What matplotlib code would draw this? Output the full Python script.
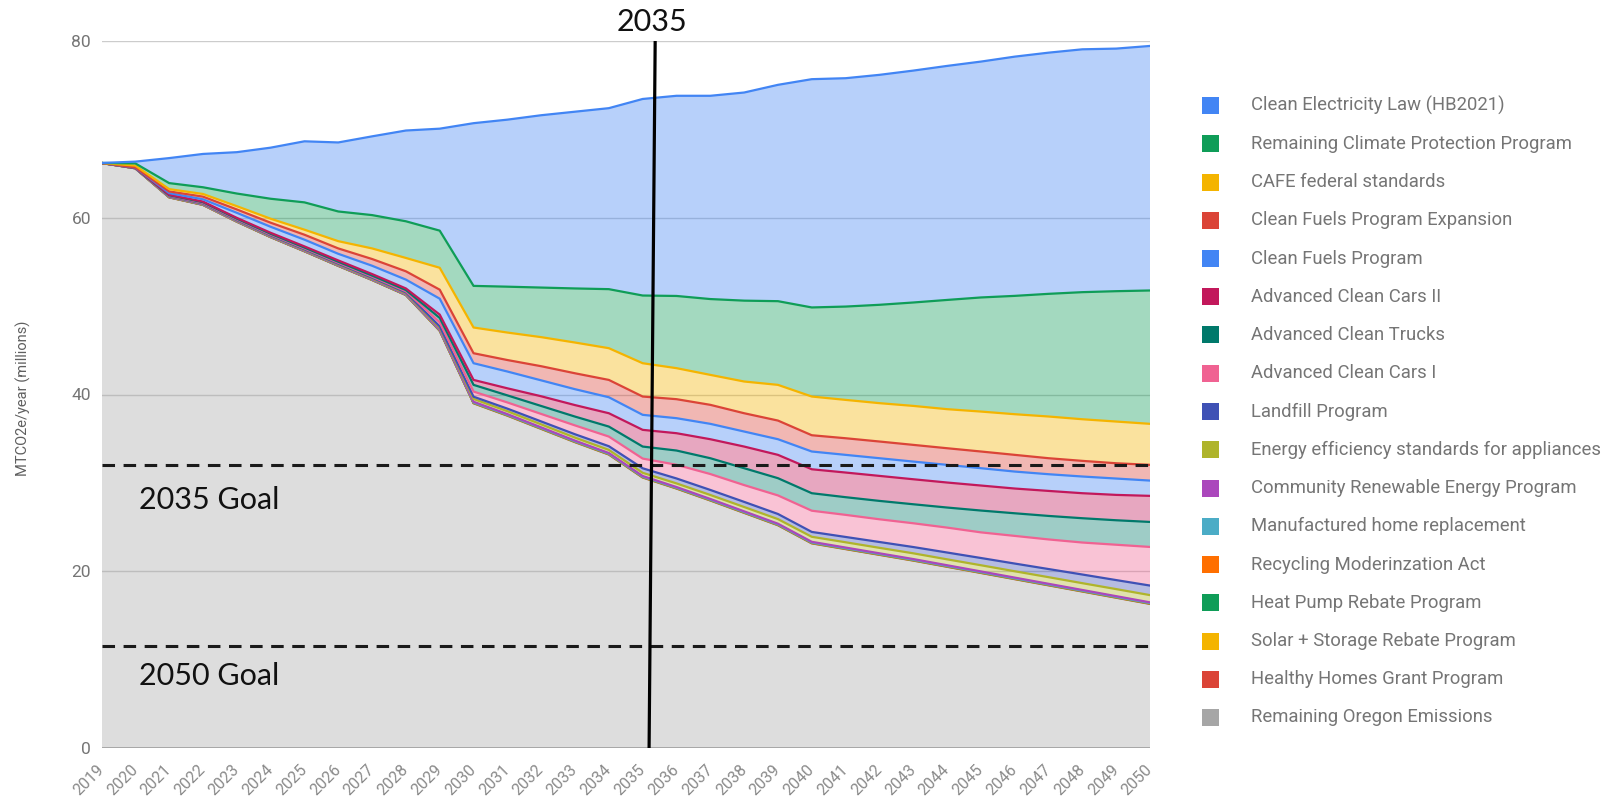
import numpy as np
import matplotlib
matplotlib.use("Agg")
import matplotlib.pyplot as plt
from matplotlib.patches import Rectangle

# ---------------- data (MTCO2e / year, millions) ----------------
years = list(range(2019, 2051))

remaining = [66.2, 65.6, 62.3, 61.45, 59.55, 57.8, 56.2, 54.55, 52.95, 51.25, 47.2,
             39.0, 37.6, 36.1, 34.6, 33.2, 30.6, 29.35, 28.0, 26.6, 25.2,
             23.15, 22.5, 21.85, 21.2, 20.5, 19.8, 19.1, 18.4, 17.7, 17.0, 16.3]
healthy = [0.0, 0.0, 0.01, 0.01, 0.01, 0.01, 0.01, 0.01, 0.01, 0.01, 0.02,
           0.02, 0.02, 0.02, 0.02, 0.02, 0.02, 0.02, 0.02, 0.02, 0.02,
           0.02, 0.02, 0.02, 0.02, 0.02, 0.02, 0.02, 0.02, 0.02, 0.02, 0.02]
solar = [0.0, 0.0, 0.01, 0.01, 0.01, 0.01, 0.01, 0.01, 0.01, 0.01, 0.02,
         0.02, 0.02, 0.02, 0.02, 0.02, 0.02, 0.02, 0.02, 0.02, 0.02,
         0.02, 0.02, 0.02, 0.02, 0.02, 0.02, 0.02, 0.02, 0.02, 0.02, 0.02]
heat_pump = [0.0, 0.0, 0.01, 0.01, 0.01, 0.01, 0.01, 0.01, 0.01, 0.01, 0.02,
             0.02, 0.02, 0.02, 0.02, 0.02, 0.02, 0.02, 0.02, 0.02, 0.02,
             0.02, 0.02, 0.02, 0.02, 0.02, 0.02, 0.02, 0.02, 0.02, 0.02, 0.02]
recycling = [0.0, 0.0, 0.01, 0.01, 0.01, 0.01, 0.01, 0.01, 0.01, 0.01, 0.02,
             0.02, 0.02, 0.02, 0.02, 0.02, 0.02, 0.02, 0.02, 0.02, 0.02,
             0.02, 0.02, 0.02, 0.02, 0.02, 0.02, 0.02, 0.02, 0.02, 0.02, 0.02]
manufactured = [0.0, 0.0, 0.01, 0.01, 0.01, 0.01, 0.01, 0.01, 0.01, 0.01, 0.02,
                0.02, 0.02, 0.02, 0.02, 0.02, 0.02, 0.02, 0.02, 0.02, 0.02,
                0.02, 0.02, 0.02, 0.02, 0.02, 0.02, 0.02, 0.02, 0.02, 0.02, 0.02]
community = [0.0, 0.01, 0.02, 0.02, 0.03, 0.03, 0.03, 0.04, 0.04, 0.04, 0.06,
             0.08, 0.08, 0.08, 0.08, 0.08, 0.08, 0.08, 0.08, 0.08, 0.08,
             0.08, 0.08, 0.08, 0.08, 0.08, 0.08, 0.08, 0.08, 0.08, 0.08, 0.08]
efficiency = [0.0, 0.01, 0.04, 0.06, 0.06, 0.07, 0.08, 0.08, 0.09, 0.11, 0.2,
              0.32, 0.33, 0.34, 0.34, 0.35, 0.36, 0.41, 0.45, 0.49, 0.52,
              0.57, 0.6, 0.62, 0.65, 0.67, 0.7, 0.72, 0.75, 0.77, 0.8, 0.82]
landfill = [0.0, 0.01, 0.03, 0.04, 0.05, 0.06, 0.07, 0.08, 0.09, 0.1, 0.15,
            0.25, 0.29, 0.33, 0.38, 0.42, 0.51, 0.56, 0.57, 0.58, 0.58,
            0.55, 0.6, 0.66, 0.71, 0.77, 0.82, 0.87, 0.92, 0.98, 1.02, 1.08]
acc1 = [0.0, 0.01, 0.06, 0.07, 0.08, 0.09, 0.1, 0.11, 0.12, 0.13, 0.45,
        0.58, 0.7, 0.85, 1.0, 1.09, 1.1, 1.55, 1.8, 1.9, 2.1,
        2.4, 2.5, 2.57, 2.69, 2.82, 2.9, 3.13, 3.35, 3.62, 4.0, 4.37]
act = [0.0, 0.01, 0.05, 0.07, 0.08, 0.09, 0.1, 0.11, 0.12, 0.14, 0.5,
       0.76, 0.8, 0.9, 1.0, 1.13, 1.36, 1.61, 1.79, 1.91, 1.95,
       1.98, 2.0, 2.08, 2.15, 2.27, 2.47, 2.56, 2.66, 2.75, 2.77, 2.83]
acc2 = [0.0, 0.01, 0.05, 0.07, 0.09, 0.11, 0.13, 0.15, 0.17, 0.18, 0.38,
        0.56, 0.8, 1.1, 1.3, 1.51, 1.89, 1.96, 2.15, 2.45, 2.64,
        2.71, 2.79, 2.83, 2.83, 2.83, 2.83, 2.8, 2.83, 2.83, 2.87, 2.95]
cfp = [0.0, 0.02, 0.19, 0.26, 0.57, 0.68, 0.76, 0.75, 0.94, 1.0, 1.8,
       1.89, 1.9, 1.8, 1.8, 1.81, 1.7, 1.7, 1.74, 1.7, 1.77,
       2.01, 2.0, 2.0, 2.0, 2.0, 1.96, 1.92, 1.89, 1.89, 1.85, 1.73]
cfp_expansion = [0.0, 0.02, 0.19, 0.3, 0.38, 0.46, 0.56, 0.61, 0.76, 0.94, 1.02,
                 1.13, 1.3, 1.6, 1.8, 1.96, 2.07, 2.15, 2.15, 2.07, 2.11,
                 1.84, 1.88, 1.89, 1.89, 1.88, 1.89, 1.89, 1.81, 1.77, 1.73, 1.78]
cafe = [0.0, 0.2, 0.26, 0.3, 0.37, 0.45, 0.57, 0.82, 1.2, 1.51, 2.48,
        2.91, 3.11, 3.29, 3.48, 3.59, 3.77, 3.51, 3.39, 3.59, 4.04,
        4.38, 4.34, 4.34, 4.41, 4.42, 4.52, 4.6, 4.72, 4.71, 4.72, 4.64]
climate_protection = [0.0, 0.25, 0.68, 0.76, 1.43, 2.26, 3.09, 3.36, 3.77, 4.15, 4.2,
                      4.71, 5.19, 5.61, 6.12, 6.68, 7.66, 8.17, 8.58, 9.15, 9.47,
                      10.08, 10.56, 11.13, 11.7, 12.36, 12.91, 13.39, 13.88, 14.38, 14.75, 15.09]
clean_electricity = [0.0, 0.2, 2.83, 3.77, 4.68, 5.78, 6.91, 7.81, 8.91, 10.27, 11.54,
                     18.41, 18.9, 19.5, 20.0, 20.48, 22.24, 22.65, 23.0, 23.55, 24.48,
                     25.83, 25.84, 26.02, 26.24, 26.48, 26.69, 27.07, 27.29, 27.48, 27.45, 27.67]

# legend order (top of stack first)
labels = ["Clean Electricity Law (HB2021)", "Remaining Climate Protection Program",
          "CAFE federal standards", "Clean Fuels Program Expansion", "Clean Fuels Program",
          "Advanced Clean Cars II", "Advanced Clean Trucks", "Advanced Clean Cars I",
          "Landfill Program", "Energy efficiency standards for appliances",
          "Community Renewable Energy Program", "Manufactured home replacement",
          "Recycling Moderinzation Act", "Heat Pump Rebate Program",
          "Solar + Storage Rebate Program", "Healthy Homes Grant Program",
          "Remaining Oregon Emissions"]
colors = ["#4285F4", "#0F9D58", "#F4B400", "#DB4437", "#4285F4", "#C2185B", "#00796B",
          "#F06292", "#3F51B5", "#AFB42B", "#AB47BC", "#4BACC6", "#FF6F00", "#0F9D58",
          "#F4B400", "#DB4437", "#A6A6A6"]
series_top_first = [clean_electricity, climate_protection, cafe, cfp_expansion, cfp,
                    acc2, act, acc1, landfill, efficiency, community, manufactured,
                    recycling, heat_pump, solar, healthy, remaining]

goal_2035 = 32.0
goal_2050 = 11.5
marker_year = 2035

# ---------------- figure ----------------
W, H = 1614, 800
fig = plt.figure(figsize=(W / 100, H / 100), dpi=100)
ax = fig.add_axes([101.5 / W, 52 / H, 1048.5 / W, 707 / H])

series_bottom_first = series_top_first[::-1]
colors_bottom_first = colors[::-1]
ax.stackplot(years, *series_bottom_first, colors=colors_bottom_first,
             alpha=0.38, linewidth=0, zorder=1)
tops = np.cumsum(np.array(series_bottom_first, dtype=float), axis=0)
for top, col in zip(tops, colors_bottom_first):
    ax.plot(years, top, color=col, lw=1.6, zorder=2, solid_joinstyle="round")

ax.set_xlim(2019, 2050)
ax.set_ylim(0, 80)
ax.set_yticks([0, 20, 40, 60, 80])
ax.yaxis.grid(True, color="#cccccc", lw=1.0)
ax.set_axisbelow(True)
ax.axhline(0, color="#9a9a9a", lw=1.8, zorder=3)
for s in ax.spines.values():
    s.set_visible(False)

ax.set_xticks(years)
ax.set_xticklabels([str(y) for y in years])
ax.tick_params(axis="both", length=0)
ax.tick_params(axis="y", labelsize=12.5, labelcolor="#757575", pad=7.5)
ax.tick_params(axis="x", labelsize=11.5, labelcolor="#8a8a8a", pad=14)
for lab in ax.get_yticklabels() + ax.get_xticklabels():
    lab.set_fontfamily("Roboto")
plt.setp(ax.get_xticklabels(), rotation=45, ha="right", va="center",
         rotation_mode="anchor")

fig.text(23 / W, 1 - 398 / H, "MTCO2e/year (millions)", rotation=90,
         ha="center", va="center", fontsize=10.5, color="#5f5f5f", family="Roboto")

# goals and 2035 marker
dash = (0, (4.1, 2.8))
ax.axhline(goal_2035, color="#1a1a1a", lw=2.2, ls=dash, zorder=4)
ax.axhline(goal_2050, color="#1a1a1a", lw=2.2, ls=dash, zorder=4)
ax.text(2020.12, 27.0, "2035 Goal", fontsize=22, family="Lato", color="#111111",
        va="baseline", ha="left", zorder=5)
ax.text(2020.12, 7.13, "2050 Goal", fontsize=22, family="Lato", color="#111111",
        va="baseline", ha="left", zorder=5)
ax.plot([marker_year + 0.37, marker_year + 0.19], [80, 0], color="black", lw=2.3,
        zorder=6, clip_on=False, solid_capstyle="butt")
ax.text(marker_year + 0.27, 81.1, "2035", fontsize=22, family="Lato", color="#111111",
        ha="center", va="baseline", clip_on=False)

# legend (manual, matching Google Charts layout)
for i, (lab, col) in enumerate(zip(labels, colors)):
    yc = 105.5 + i * 38.25
    fig.patches.append(Rectangle(((1210.5 - 8.5) / W, (H - yc - 8.5) / H), 17 / W, 17 / H,
                                 transform=fig.transFigure, facecolor=col,
                                 edgecolor="none"))
    fig.text(1251 / W, 1 - yc / H, lab, ha="left", va="center", fontsize=13.3,
             color="#757575", family="Roboto")

fig.savefig("out.png", dpi=100, facecolor="white")
